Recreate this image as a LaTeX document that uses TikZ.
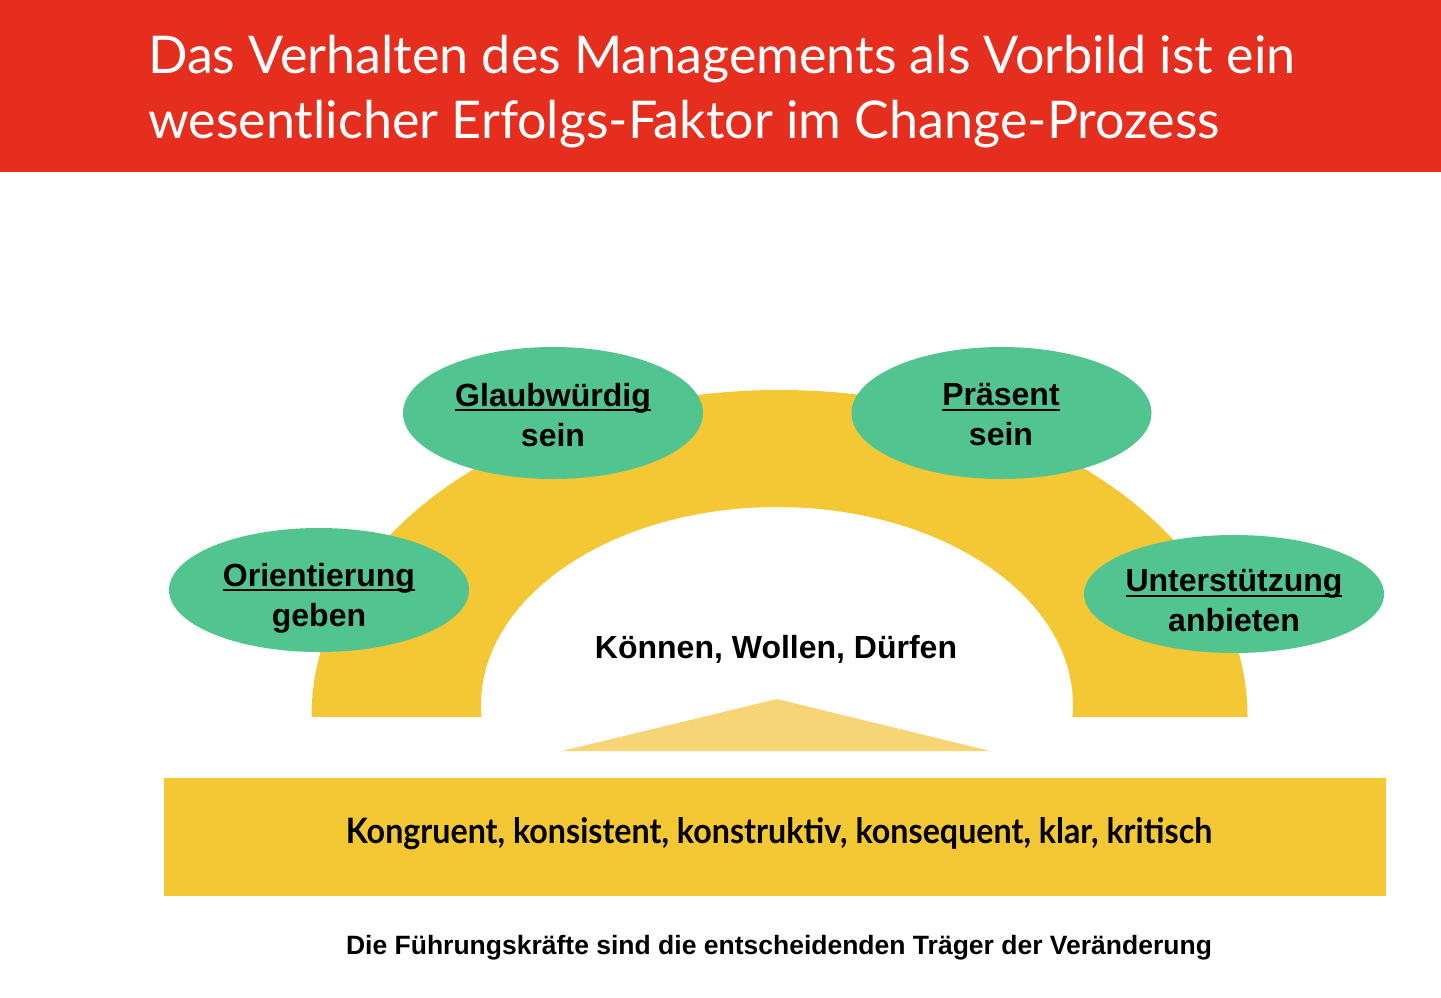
\documentclass[tikz,border=0pt]{standalone}
\usepackage{fontspec}
\usepackage{graphicx}
\setmainfont{Lato}
\newfontfamily\arialfont{Liberation Sans}
\usetikzlibrary{shapes.geometric}
\definecolor{bannerred}{HTML}{E52E1E}
\definecolor{leafgreen}{HTML}{52C490}
\definecolor{archyellow}{HTML}{F4C734}
\definecolor{palegold}{HTML}{F7D577}
\newcommand\ulword[1]{\setbox0\hbox{#1}\rlap{\rule[-5pt]{\wd0}{2.2pt}}\box0}
\tikzset{
  leaf/.style={ellipse, fill=leafgreen, inner sep=0pt, minimum width=300pt},
  leaftext/.style={inner sep=0pt, align=center, font=\arialfont\bfseries\fontsize{32}{40}\selectfont},
  titletext/.style={anchor=base west, inner sep=0pt, text=white, font=\fontsize{52}{60}\selectfont},
}
\begin{document}
\begin{tikzpicture}[x=1pt,y=-1pt]
\useasboundingbox (0,0) rectangle (1441,997);
\fill[white] (0,0) rectangle (1441,997);
% banner
\fill[bannerred] (0,0) rectangle (1441,172);
\node[titletext] (t1) at (148,73) {Das Verhalten des Managements als Vorbild ist ein};
\node[titletext] (t2) at (148,138) {wesentlicher Erfolgs-Faktor im Change-Prozess};
% arch
\begin{scope}
\clip (0,0) rectangle (1441,716);
\fill[archyellow, even odd rule] (779.5,716) ellipse[x radius=468, y radius=326]
  (777,705) ellipse[x radius=296, y radius=198];
\end{scope}
% triangle
\fill[palegold] (562,751) -- (777,699) -- (990,751) -- cycle;
% base bar
\fill[archyellow] (164,778) rectangle (1386,896);
\node[inner sep=0pt, font=\bfseries\fontsize{35}{40}\selectfont] (bar) at (779,834)
  {\scalebox{0.92}[1]{Kongruent, konsistent, konstruktiv, konsequent, klar, kritisch}};
% leaves
\node[leaf, minimum height=124pt] (orient) at (319,590) {};
\node[leaftext] (orientT) at (319,598) {\ulword{Orientierung}\\geben};
\node[leaf, minimum height=132pt] (glaub) at (553,413) {};
\node[leaftext] (glaubT) at (553,415) {\ulword{Glaubwürdig}\\sein};
\node[leaf, minimum height=132pt] (praes) at (1001.5,413) {};
\node[leaftext] (praesT) at (1001,415) {\ulword{Präsent}\\sein};
\node[leaf, minimum height=118pt] (unter) at (1234,594) {};
\node[leaftext] (unterT) at (1234,601) {\ulword{Unterstützung}\\anbieten};
% centre text
\node[inner sep=0pt, font=\arialfont\bfseries\fontsize{32}{36}\selectfont] (kwd) at (776,649)
  {Können, Wollen, Dürfen};
% caption
\node[inner sep=0pt, font=\arialfont\bfseries\fontsize{26.5}{30}\selectfont] (cap) at (779,948)
  {Die Führungskräfte sind die entscheidenden Träger der Veränderung};
\end{tikzpicture}
\end{document}
